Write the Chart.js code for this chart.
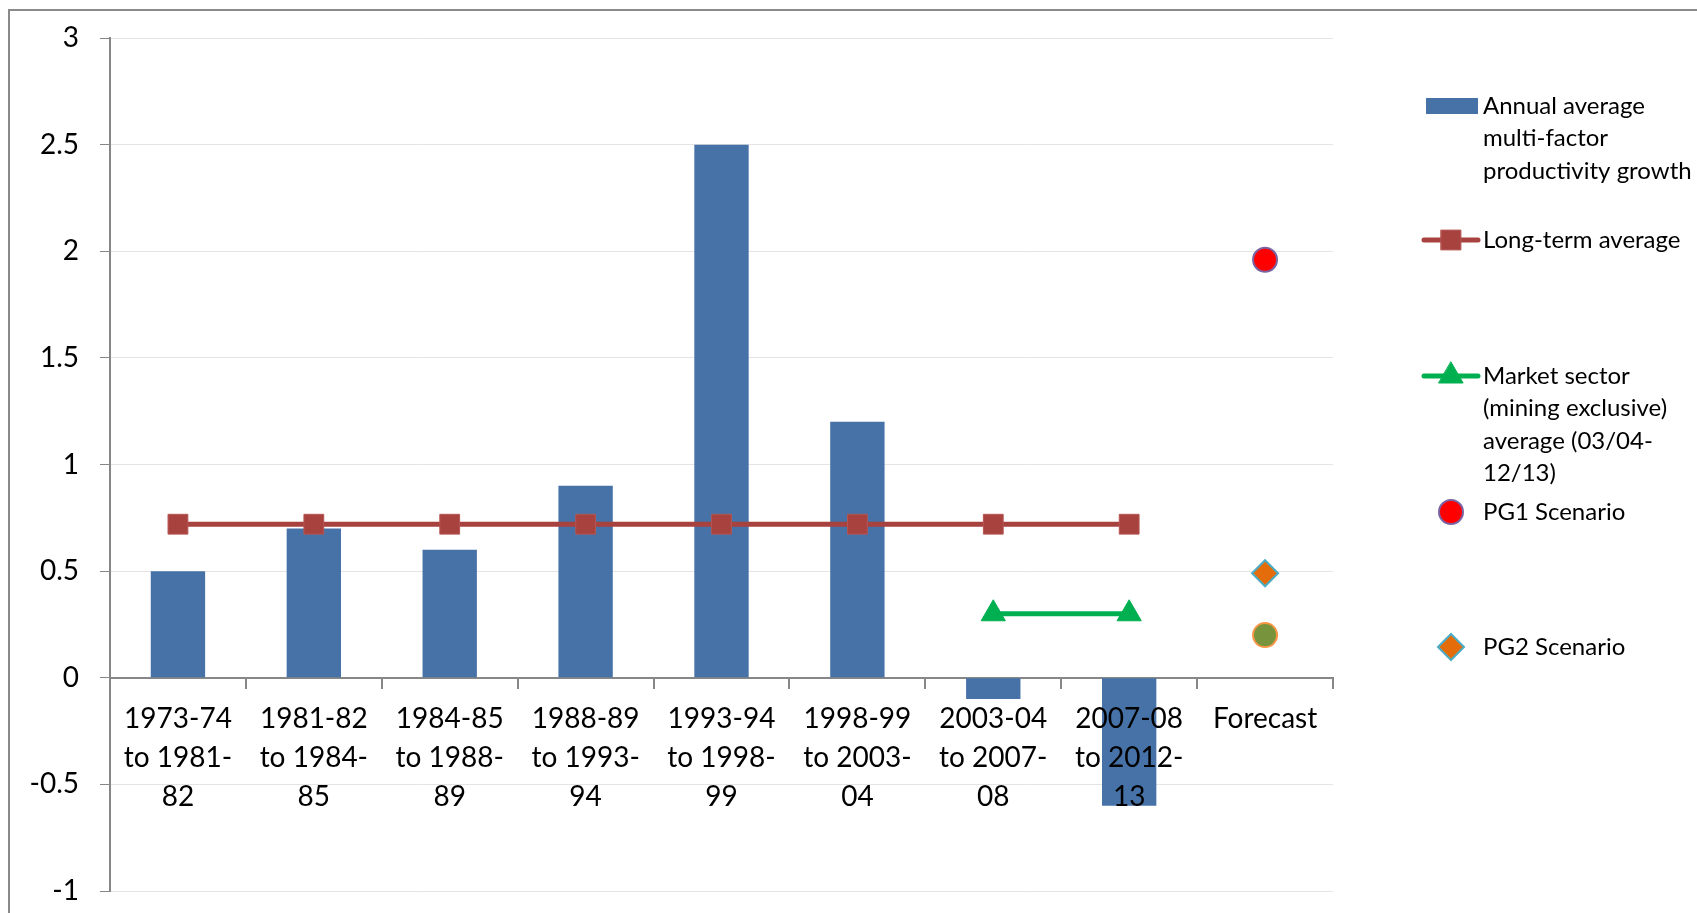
<!DOCTYPE html>
<html lang="en">
<head>
<meta charset="UTF-8">
<title>Multi-factor productivity growth</title>
<script src="https://cdn.jsdelivr.net/npm/chart.js"></script>
<style>
  body { margin: 0; background: #fff; overflow: hidden; }
  #wrap { position: relative; width: 1697px; height: 913px; }
  #frame { position: absolute; left: 8px; top: 9px; width: 1720px; height: 940px;
           border-left: 2px solid #8a8a8a; border-top: 2px solid #8a8a8a; }
  #chart { position: absolute; left: 0; top: 0; }
</style>
</head>
<body>
<div id="wrap">
  <div id="frame"></div>
  <canvas id="chart" width="1697" height="913"></canvas>
</div>
<script>
// categories (wrapped the way the original axis shows them)
var periods = [
  ['1973-74', 'to 1981-', '82'],
  ['1981-82', 'to 1984-', '85'],
  ['1984-85', 'to 1988-', '89'],
  ['1988-89', 'to 1993-', '94'],
  ['1993-94', 'to 1998-', '99'],
  ['1998-99', 'to 2003-', '04'],
  ['2003-04', 'to 2007-', '08'],
  ['2007-08', 'to 2012-', '13'],
  ['Forecast']
];

// series
var mfpGrowth       = [0.5, 0.7, 0.6, 0.9, 2.5, 1.2, -0.1, -0.6, null];
var longTermAvg     = [0.72, 0.72, 0.72, 0.72, 0.72, 0.72, 0.72, 0.72, null];
var marketSectorAvg = [null, null, null, null, null, null, 0.3, 0.3, null];
var pg1Scenario     = [null, null, null, null, null, null, null, null, 1.96];
var pg2Scenario     = [null, null, null, null, null, null, null, null, 0.49];
var otherScenario   = [null, null, null, null, null, null, null, null, 0.2];

// y axis ticks
var yTicks = [-1, -0.5, 0, 0.5, 1, 1.5, 2, 2.5, 3];

// legend text, one array of lines per legend entry
var legendText = [
  ['Annual average', 'multi-factor', 'productivity growth'],
  ['Long-term average'],
  ['Market sector', '(mining exclusive)', 'average (03/04-', '12/13)'],
  ['PG1 Scenario'],
  ['PG2 Scenario']
];

var FONT = 'Lato';
var AXIS_GREY = '#878787';

// legend drawn by hand, Excel style (multi-line labels, uneven spacing)
var sideLegend = {
  id: 'sideLegend',
  afterDraw: function (chart) {
    var ctx = chart.ctx;
    var rows = [106, 240, 376, 512, 647];
    var markX = 1451, textX = 1483, lineGap = 32.5;
    ctx.save();
    for (var i = 0; i < legendText.length; i++) {
      var ds = chart.data.datasets[i];
      var y = rows[i];
      if (ds.type === 'bar') {
        ctx.fillStyle = ds.backgroundColor;
        ctx.fillRect(1426, y - 8, 52, 16);
      } else {
        if (ds.showLine !== false) {
          ctx.strokeStyle = ds.borderColor;
          ctx.lineWidth = ds.borderWidth;
          ctx.lineCap = 'round';
          ctx.beginPath();
          ctx.moveTo(1424, y);
          ctx.lineTo(1478, y);
          ctx.stroke();
        }
        ctx.fillStyle = ds.pointBackgroundColor;
        ctx.strokeStyle = ds.pointBorderColor;
        ctx.lineWidth = ds.pointBorderWidth;
        Chart.helpers.drawPoint(ctx, {
          pointStyle: ds.pointStyle, radius: ds.pointRadius,
          rotation: 0, borderWidth: ds.pointBorderWidth
        }, markX, y);
      }
      ctx.fillStyle = '#000';
      ctx.font = '24px ' + FONT;
      ctx.textBaseline = 'middle';
      ctx.textAlign = 'left';
      for (var j = 0; j < legendText[i].length; j++) {
        ctx.fillText(legendText[i][j], textX, y + j * lineGap);
      }
    }
    ctx.restore();
  }
};

new Chart(document.getElementById('chart'), {
  type: 'bar',
  data: {
    labels: periods,
    datasets: [{
      type: 'bar',
      label: 'Annual average multi-factor productivity growth',
      data: mfpGrowth,
      backgroundColor: '#4672A7',
      barPercentage: 0.4,
      categoryPercentage: 1,
      order: 2
    }, {
      type: 'line',
      label: 'Long-term average',
      data: longTermAvg,
      borderColor: '#A8423F',
      borderWidth: 5,
      pointStyle: 'rect',
      pointRadius: 14,
      pointBackgroundColor: '#A8423F',
      pointBorderColor: '#B55552',
      pointBorderWidth: 1,
      order: 1
    }, {
      type: 'line',
      label: 'Market sector (mining exclusive) average (03/04-12/13)',
      data: marketSectorAvg,
      borderColor: '#00B050',
      borderWidth: 5,
      pointStyle: 'triangle',
      pointRadius: 14,
      pointBackgroundColor: '#00B050',
      pointBorderColor: '#00B050',
      pointBorderWidth: 1,
      order: 1
    }, {
      type: 'line',
      label: 'PG1 Scenario',
      data: pg1Scenario,
      showLine: false,
      pointStyle: 'circle',
      pointRadius: 12,
      pointBackgroundColor: '#FF0000',
      pointBorderColor: '#7B63A2',
      pointBorderWidth: 2,
      order: 0
    }, {
      type: 'line',
      label: 'PG2 Scenario',
      data: pg2Scenario,
      showLine: false,
      pointStyle: 'rectRot',
      pointRadius: 13,
      pointBackgroundColor: '#E46C0A',
      pointBorderColor: '#4BACC6',
      pointBorderWidth: 2,
      order: 0
    }, {
      type: 'line',
      label: '',
      data: otherScenario,
      showLine: false,
      pointStyle: 'circle',
      pointRadius: 12,
      pointBackgroundColor: '#77933C',
      pointBorderColor: '#F79646',
      pointBorderWidth: 2,
      order: 0
    }]
  },
  options: {
    responsive: false,
    animation: false,
    events: [],
    layout: { padding: { left: 0, right: 364, top: 38, bottom: 22 } },
    plugins: {
      legend: { display: false },
      tooltip: { enabled: false }
    },
    scales: {
      x: {
        position: { y: 0 },
        offset: true,
        grid: {
          offset: true,
          drawOnChartArea: false,
          tickLength: 10,
          tickColor: AXIS_GREY,
          lineWidth: 2
        },
        border: { color: AXIS_GREY, width: 2 },
        ticks: {
          z: 1,
          color: '#000',
          padding: 12,
          maxRotation: 0,
          autoSkip: false,
          font: { family: FONT, size: 28, lineHeight: 1.39 }
        }
      },
      y: {
        min: -1,
        max: 3,
        afterBuildTicks: function (scale) {
          scale.ticks = yTicks.map(function (v) { return { value: v }; });
        },
        afterFit: function (scale) {
          scale.width = 110;
          // the outer padding already leaves room for the end labels
          scale.paddingTop = 0;
          scale.paddingBottom = 0;
        },
        grid: {
          color: '#e4e4e4',
          lineWidth: 1,
          tickLength: 10,
          tickColor: AXIS_GREY
        },
        border: { color: AXIS_GREY, width: 2 },
        ticks: {
          color: '#000',
          padding: 21,
          font: { family: FONT, size: 28 },
          callback: function (v) { return String(v); }
        }
      }
    }
  },
  plugins: [sideLegend]
});
</script>
</body>
</html>
